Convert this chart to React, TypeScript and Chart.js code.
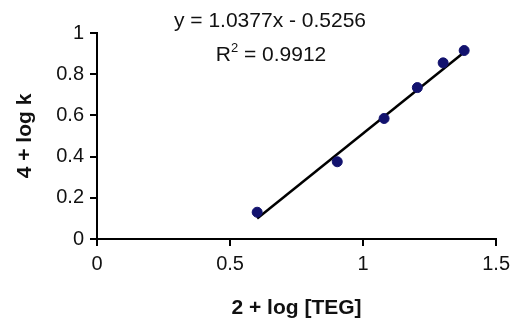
import React, { useEffect, useRef } from "react";
import { Chart, registerables } from "chart.js";

Chart.register(...registerables);

const xValues = [0.602, 0.903, 1.079, 1.204, 1.301, 1.38];
const yValues = [0.13, 0.375, 0.585, 0.735, 0.855, 0.915];
const slope = 1.0377;
const intercept = -0.5256;
const rSquared = "0.9912";
const xTitle = "2 + log [TEG]";
const yTitle = "4 + log k";

const FONT = "'Liberation Sans', Arial, sans-serif";

export default function App() {
  const ref = useRef<HTMLCanvasElement | null>(null);

  useEffect(() => {
    document.body.style.margin = "0";
    const points = xValues.map((x, i) => ({ x, y: yValues[i] }));
    const xMin = Math.min(...xValues);
    const xMax = Math.max(...xValues);
    const trend = [
      { x: xMin, y: slope * xMin + intercept },
      { x: xMax, y: slope * xMax + intercept },
    ];

    const eqPlugin = {
      id: "eq",
      afterDraw(chart: any) {
        const ctx = chart.ctx;
        ctx.save();
        ctx.fillStyle = "#111";
        ctx.font = `21px ${FONT}`;
        ctx.textBaseline = "middle";
        ctx.textAlign = "center";
        const sign = intercept < 0 ? "-" : "+";
        ctx.fillText(
          `y = ${slope.toFixed(4)}x ${sign} ${Math.abs(intercept).toFixed(4)}`,
          270,
          21
        );
        const r = "R";
        const rest = ` = ${rSquared}`;
        ctx.font = `21px ${FONT}`;
        const wR = ctx.measureText(r).width;
        const wRest = ctx.measureText(rest).width;
        ctx.font = `13px ${FONT}`;
        const w2 = ctx.measureText("2").width;
        const total = wR + w2 + wRest;
        let x = 271 - total / 2;
        ctx.textAlign = "left";
        ctx.font = `21px ${FONT}`;
        ctx.fillText(r, x, 55);
        x += wR;
        ctx.font = `13px ${FONT}`;
        ctx.fillText("2", x, 48);
        x += w2;
        ctx.font = `21px ${FONT}`;
        ctx.fillText(rest, x, 55);
        ctx.restore();
      },
    };

    const chart = new Chart(ref.current!, {
      type: "scatter",
      data: {
        datasets: [
          {
            type: "scatter",
            data: points,
            backgroundColor: "#12126e",
            borderColor: "#12126e",
            pointRadius: 5,
            pointHoverRadius: 5,
          },
          {
            type: "line",
            data: trend,
            borderColor: "#000",
            borderWidth: 2.5,
            pointRadius: 0,
            fill: false,
          } as any,
        ],
      },
      options: {
        animation: false,
        responsive: false,
        layout: { padding: { top: 33, right: 12, left: 0, bottom: 0 } },
        plugins: { legend: { display: false }, tooltip: { enabled: false } },
        scales: {
          x: {
            type: "linear",
            min: 0,
            max: 1.5,
            afterFit: (s: any) => {
              s.height = 83;
            },
            ticks: {
              stepSize: 0.5,
              color: "#111",
              font: { family: FONT, size: 20 },
              padding: 6,
              callback: (v: any) => String(v),
            },
            grid: {
              display: true,
              drawOnChartArea: false,
              drawTicks: true,
              tickLength: 7,
              color: "#000",
              lineWidth: 2,
            },
            border: { display: true, color: "#000", width: 2 },
            title: {
              display: true,
              text: xTitle,
              color: "#111",
              font: { family: FONT, size: 21, weight: "bold" },
              padding: { top: 0, bottom: 1 },
            },
          },
          y: {
            type: "linear",
            min: 0,
            max: 1,
            afterFit: (s: any) => {
              s.width = 97;
            },
            ticks: {
              stepSize: 0.2,
              color: "#111",
              font: { family: FONT, size: 20 },
              padding: 6,
              callback: (v: any) => String(Math.round(v * 10) / 10),
            },
            grid: {
              display: true,
              drawOnChartArea: false,
              drawTicks: true,
              tickLength: 7,
              color: "#000",
              lineWidth: 2,
            },
            border: { display: true, color: "#000", width: 2 },
            title: {
              display: true,
              text: yTitle,
              color: "#111",
              font: { family: FONT, size: 21, weight: "bold" },
              padding: { top: 13, bottom: 0 },
            },
          },
        },
      },
      plugins: [eqPlugin],
    });
    return () => chart.destroy();
  }, []);

  return (
    <div style={{ position: "absolute", left: 0, top: 0, width: 516, height: 322 }}>
      <canvas ref={ref} width={516} height={322} />
    </div>
  );
}
